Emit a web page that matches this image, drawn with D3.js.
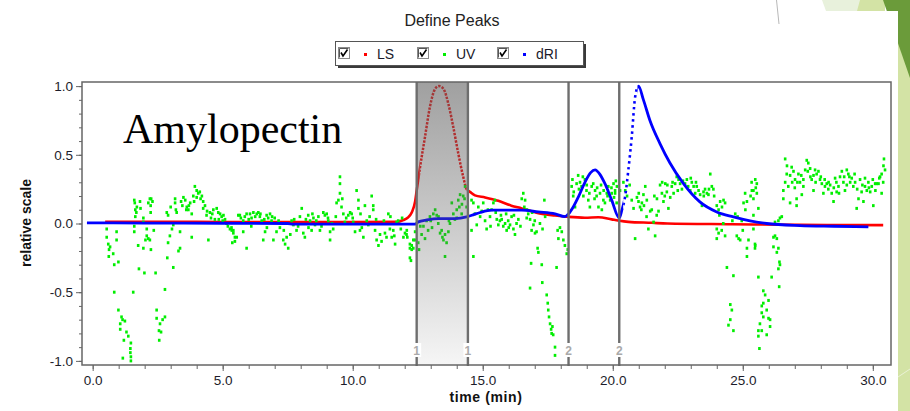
<!DOCTYPE html>
<html>
<head>
<meta charset="utf-8">
<script src="https://cdn.jsdelivr.net/npm/d3@7"></script>
<style>
body { margin: 0; background: #fff; }
svg { display: block; font-family: Arial, "Liberation Sans", sans-serif; }
</style>
</head>
<body>
<script>
// LS (light scattering), [time, relative value]
var lsData = [
  [0.48,0.012],[2,0.012],[4,0.012],[6,0.01],[8,0.01],[10,0.01],[11.7,0.012],[11.95,0.025],[12.1,0.04],
  [12.27,0.08],[12.4,0.16],[12.46,0.24],[12.59,0.41],[12.78,0.63],[12.97,0.85],[13.17,0.98],[13.32,1.0],
  [13.49,0.98],[13.68,0.87],[13.87,0.70],[14.06,0.51],[14.25,0.34],[14.38,0.25],[14.51,0.23],[14.7,0.205],
  [15.09,0.19],[15.6,0.165],[16.1,0.13],[16.5,0.11],[17.14,0.075],[17.78,0.058],[18.3,0.048],[18.93,0.042],
  [19.45,0.046],[19.96,0.03],[20.2,0.022],[20.6,0.012],[21.5,0.005],[22.1,0.0],[24.6,-0.005],[27.2,-0.01],
  [30.4,-0.012]
]

// dRI (differential refractive index)
var driData = [
  [-0.22,0.005],[2,0.003],[5,0.002],[7.5,0.0],[7.7,-0.004],[12.4,-0.004],[12.52,0.012],[12.85,0.026],
  [13.29,0.036],[13.93,0.036],[14.38,0.048],[14.58,0.06],[14.9,0.08],[15.35,0.097],[15.86,0.097],[16.5,0.097],
  [17.14,0.084],[17.78,0.07],[18.16,0.05],[18.3,0.07],[18.48,0.12],[18.67,0.19],[18.93,0.30],[19.15,0.37],
  [19.32,0.39],[19.5,0.36],[19.7,0.29],[19.96,0.17],[20.25,0.04],[20.35,0.097],[20.47,0.19],[20.6,0.39],
  [20.73,0.63],[20.86,0.92],[20.99,1.0],[21.18,0.9],[21.43,0.75],[21.82,0.58],[22.2,0.44],[22.72,0.29],
  [23.35,0.157],[24.0,0.084],[24.64,0.048],[25.28,0.019],[25.92,0.0],[27.2,-0.015],[28.5,-0.02],[29.83,-0.024]
]

// UV detector points
var uvData = [
  [0.54,-0.04],[0.54,-0.10],[0.6,-0.15],[0.63,-0.19],[0.67,-0.17],[0.79,-0.22],[0.62,-0.24],[0.83,-0.30],
  [0.92,-0.06],[0.92,-0.12],[0.99,-0.28],[0.83,-0.50],[0.99,-0.63],[1.11,-0.68],[1.06,-0.73],[1.15,-0.70],
  [1.24,-0.71],[1.06,-0.77],[1.3,-0.79],[1.2,-0.85],[1.37,-0.82],[1.47,-0.87],[1.45,-0.91],[1.45,-0.94],
  [1.47,-0.97],[1.47,-1.0],[1.16,-0.98],[1.56,-0.50],[1.6,0.17],[1.62,0.15],[1.64,0.10],[1.64,0.05],
  [1.6,-0.02],[1.6,-0.06],[1.82,0.16],[1.84,0.11],[1.95,0.04],[1.95,0.01],[2.08,-0.04],[2.08,-0.09],
  [2.03,-0.12],[1.95,-0.18],[1.75,-0.16],[1.78,-0.33],[1.99,-0.36],[2.14,-0.11],[2.2,-0.12],[2.24,-0.19],
  [2.2,0.18],[2.25,0.18],[2.23,0.13],[2.23,0.08],[2.14,0.15],[2.42,-0.36],[2.46,-0.63],[2.46,-0.69],
  [2.59,-0.73],[2.55,-0.78],[2.63,-0.79],[2.69,-0.70],[2.78,-0.68],[2.56,-0.85],[2.78,-0.48],[2.85,0.08],
  [2.9,0.06],[2.9,-0.14],[2.97,-0.09],[2.87,-0.25],[3.1,-0.32],[3.05,-0.04],[3.17,0.18],[3.17,0.15],
  [3.23,0.08],[3.1,-0.01],[3.36,-0.06],[3.36,-0.18],[3.3,-0.20],[3.49,0.19],[3.56,0.17],[3.62,0.12],
  [3.68,0.10],[3.75,0.15],[3.81,0.07],[3.81,-0.10],[3.93,0.27],[4.0,0.24],[4.06,0.22],[4.12,0.23],
  [3.87,0.20],[4.25,0.16],[4.25,0.11],[4.32,0.13],[4.38,0.06],[4.45,-0.12],[4.51,0.08],[4.64,0.10],
  [4.7,0.03],[4.77,0.11],[4.83,0.08],[4.9,0.07],[4.96,0.05],[5.03,0.06],[5.09,0.03],[5.28,-0.04],
  [5.35,-0.05],[5.41,-0.07],[5.47,-0.10],[5.37,-0.14],[5.6,0.06],
  [1.7,0.12],[1.68,0.08],[2.3,0.16],[2.35,-0.05],[3.0,0.12],[3.2,0.1],[3.4,0.16],[3.45,0.13],
  [3.6,0.1],[3.7,0.13],[3.9,0.16],[4.0,0.19],[4.15,0.18],[4.2,0.2],[4.4,0.09],[4.55,0.04],[4.6,0.07],
  [4.85,0.03],[5.0,0.02],[5.15,0.0],[5.2,-0.02],
  [5.34,-0.03],[5.41,-0.05],[5.47,-0.13],[5.54,-0.1],[5.66,0.06],[5.79,0.02],[5.79,-0.06],[5.92,-0.18],
  [5.92,0.07],[6.05,0.07],[6.11,0.04],[6.18,0.08],[6.31,0.07],[6.37,0.08],[6.43,0.05],[6.5,0.02],
  [6.56,-0.12],[6.63,-0.06],[6.69,0.06],[6.75,0.04],[6.82,0.07],[6.88,0.02],[6.95,-0.12],[7.07,-0.06],
  [7.2,-0.03],[7.27,0.0],[7.33,-0.12],[7.4,-0.15],[7.52,-0.18],[7.46,-0.1],[7.65,0.02],[7.72,-0.01],
  [7.84,-0.05],[7.97,0.05],[8.04,0.11],[8.1,-0.07],[8.16,-0.1],[8.29,0.06],[8.36,0.02],[8.42,-0.05],
  [8.49,0.04],[8.55,-0.01],[8.68,0.05],[8.74,-0.05],[8.87,0.08],[8.93,0.06],[9.0,0.07],[9.06,0.02],
  [9.13,-0.06],[9.13,-0.12],[9.25,-0.04],[9.38,0.15],[9.45,0.17],[9.51,0.22],[9.51,0.34],[9.51,0.29],
  [9.57,0.12],[9.64,0.07],[9.7,0.01],[9.83,0.06],[9.9,0.08],[9.96,0.07],[10.02,0.01],[10.09,-0.06],
  [10.15,0.24],[10.22,0.17],[10.22,0.11],[10.28,-0.05],[10.41,-0.1],[10.47,0.13],[10.54,0.02],[10.6,-0.01],
  [10.73,0.2],[10.79,0.13],[10.79,0.1],[10.86,-0.05],[10.92,-0.12],[10.99,-0.16],[11.05,-0.08],[11.11,-0.13],
  [11.24,-0.07],[11.37,0.07],[11.43,-0.04],[11.5,-0.1],[11.56,-0.05],[11.63,-0.15],[11.69,0.01],[11.75,0.02],
  [11.95,-0.1],[12.01,-0.07],[12.07,-0.08],[12.2,-0.15],[12.27,-0.19],[12.33,-0.18],[12.39,-0.12],[12.2,-0.25],
  [5.7,0.04],[5.85,0.05],[6.0,0.03],[6.1,-0.02],[6.25,0.05],[6.45,0.07],[6.6,0.03],[6.7,-0.03],[6.9,0.05],
  [7.0,0.04],[7.15,0.02],[7.35,-0.05],[7.6,-0.08],[7.75,0.03],[7.9,-0.02],[8.2,0.03],[8.3,-0.03],[8.45,0.07],
  [8.6,0.02],[8.8,-0.02],[9.05,0.04],[9.2,0.0],[9.35,0.05],[9.6,0.18],[9.75,0.04],[10.0,0.04],[10.3,0.07],
  [10.35,-0.03],[10.65,0.05],[10.9,0.03],[11.2,0.02],[11.3,-0.1],[11.45,0.05],[11.6,-0.09],[11.85,-0.04],
  [11.9,0.04],
  [12.08,-0.05],[12.1,-0.1],[12.2,-0.18],[12.27,-0.16],[12.33,-0.12],[12.24,-0.27],[12.4,-0.06],[12.52,-0.14],
  [12.55,-0.19],[12.72,-0.02],[12.78,-0.11],[12.84,0.02],[12.9,-0.05],[12.97,0.05],[13.1,0.07],[13.17,0.1],
  [13.23,0.06],[13.29,0.0],[13.36,-0.07],[13.42,-0.05],[13.49,-0.12],[13.55,-0.08],[13.61,-0.14],[13.55,-0.24],
  [13.68,-0.06],[13.74,0.0],[13.81,0.15],[13.87,0.07],[13.93,0.03],[14.0,0.1],[14.06,0.17],[14.13,0.21],
  [14.19,0.07],[14.25,0.2],[14.32,0.27],[14.38,0.12],
  [12.6,-0.02],[12.65,-0.08],[13.0,0.02],[13.05,-0.03],[13.3,0.05],[13.45,-0.1],[13.7,0.02],[14.0,0.04],
  [14.1,0.12],[14.2,0.14],[14.3,0.18],
  [14.57,0.17],[14.64,0.15],[14.7,0.07],[14.64,-0.24],
  [14.57,-0.05],[14.77,-0.01],[14.83,0.12],[14.96,0.09],[15.02,0.15],[15.09,0.02],[15.15,-0.04],[15.28,0.05],
  [15.34,0.1],[15.41,0.15],[15.47,0.17],[15.54,0.03],[15.6,-0.01],[15.66,0.02],[15.73,0.03],[15.79,-0.02],
  [15.86,0.0],[15.92,-0.05],[15.98,0.02],[16.05,-0.01],[16.11,0.05],[16.18,-0.04],[16.24,-0.08],[16.37,0.03],
  [16.5,0.18],[16.56,0.22],[16.63,0.17],[16.69,0.04],[16.75,0.07],[16.82,0.03],[16.88,-0.05],[16.95,-0.01],
  [17.01,-0.07],[17.07,-0.06],[16.86,-0.29],[17.11,-0.18],[17.14,-0.21],[17.27,-0.3],[16.82,-0.47],[17.29,-0.43],
  [14.9,0.05],[15.2,0.1],[15.3,-0.02],[15.5,0.08],[15.7,0.06],[15.9,0.07],[16.0,-0.03],[16.2,0.06],[16.3,0.0],
  [16.45,-0.02],[16.6,0.12],[16.7,0.1],[16.9,0.08],[17.0,0.02],[17.2,0.0],[17.3,-0.04],
  [17.37,0.17],[17.4,0.05],[17.46,-0.52],[17.5,-0.58],[17.52,-0.63],[17.55,-0.68],[17.59,-0.73],[17.63,-0.77],
  [17.65,-0.8],[17.68,-0.75],[17.71,-0.81],[17.78,-0.9],[17.78,-0.96],[17.84,-0.32],[17.88,-0.05],[17.91,-0.11],
  [17.97,-0.03],[18.04,-0.06],[18.1,-0.12],[18.16,-0.16],[18.23,-0.22],[18.27,-0.19],[18.42,0.27],[18.48,0.2],
  [18.55,0.12],[18.61,0.29],[18.67,0.35],[18.74,0.3],[18.8,0.27],[18.87,0.2],[18.93,0.32],[18.99,0.24],
  [19.06,0.17],[19.12,0.12],[19.19,0.27],[19.25,0.29],[19.32,0.24],[19.38,0.2],[19.45,0.12],[19.51,0.22],
  [19.58,0.1],[19.64,0.17],[19.7,0.15],[19.77,0.22],[19.83,0.27],[19.9,0.17],[19.96,0.22],[20.03,0.29],
  [20.09,0.24],[20.15,0.15],
  [18.45,0.32],[18.5,0.23],[18.7,0.25],[18.85,0.34],[19.0,0.28],[19.1,0.22],[19.3,0.18],[19.4,0.26],
  [19.55,0.28],[19.65,0.24],[19.8,0.2],[19.95,0.26],[20.05,0.19],[20.12,0.31],
  [20.09,0.22],[20.16,0.27],[20.28,0.24],[20.41,0.3],[20.48,0.24],[20.73,0.17],[20.8,0.11],[20.86,-0.11],
  [20.93,0.19],[20.99,0.16],[21.05,0.12],[21.12,0.15],[21.18,0.21],[21.25,0.27],[21.31,0.17],[21.37,-0.04],
  [21.44,0.09],[21.5,0.1],[21.57,0.01],[21.63,-0.09],[21.69,0.06],[21.76,0.09],[21.82,0.28],[21.89,0.22],
  [21.95,0.16],[22.02,0.29],[22.08,0.23],[22.14,0.11],[22.21,0.19],[22.27,0.27],[22.34,0.22],[22.4,0.29],
  [22.46,0.34],[22.53,0.32],[22.59,0.29],[22.66,0.25],[22.78,0.29],[22.85,0.32],[22.98,0.24],[23.04,0.3],
  [23.11,0.27],[23.17,0.22],[23.23,0.27],[23.36,0.21],[23.43,0.13],[23.49,0.23],[23.55,0.25],[23.62,0.22],
  [23.68,0.21],[23.75,0.36],[23.81,0.27],[23.87,0.25],[24.0,0.13],[24.07,0.1],[24.13,0.16],[24.26,0.17],
  [20.55,0.2],[20.65,0.28],[21.0,0.22],[21.1,0.1],[21.2,0.13],[21.3,0.05],[21.6,0.2],[21.7,0.18],[21.9,0.3],
  [22.0,0.2],[22.1,0.28],[22.3,0.3],[22.5,0.24],[22.7,0.31],[22.9,0.27],[23.0,0.33],[23.2,0.3],[23.3,0.24],
  [23.5,0.2],[23.7,0.25],[23.9,0.2],[24.1,0.06],[24.2,0.12],[24.25,0.0],
  [24.32,0.15],[24.0,-0.04],[24.07,-0.07],[24.0,-0.11],[24.19,-0.05],[24.32,-0.09],[24.71,0.07],[24.77,-0.09],
  [24.84,-0.11],[24.9,-0.12],[24.96,0.02],[25.03,0.15],[25.09,0.22],[25.16,0.16],[25.16,-0.18],[25.16,-0.24],
  [25.22,-0.12],[25.35,0.24],[25.41,0.18],[25.48,0.32],[25.54,0.29],[25.48,-0.16],[24.39,-0.32],[24.64,-0.38],
  [24.52,-0.59],[24.58,-0.63],[24.52,-0.7],[24.45,-0.74],[24.64,-0.78],
  [24.6,0.02],[24.8,0.05],[25.0,-0.05],[25.1,0.1],[25.3,0.2],[25.5,0.26],
  [25.34,0.3],[25.41,0.24],[25.54,0.22],[25.6,0.11],[25.41,0.06],[25.41,-0.04],[25.47,-0.15],[25.47,-0.18],
  [25.6,-0.39],[25.79,-0.49],[25.86,-0.52],[25.79,-0.58],[25.99,-0.56],[25.73,-0.6],[25.73,-0.65],[25.92,-0.63],
  [25.79,-0.68],[25.99,-0.69],[26.05,-0.7],[25.66,-0.73],[26.05,-0.75],[25.6,-0.78],[25.73,-0.78],[25.92,-0.81],
  [25.6,-0.82],[25.64,-0.91],[26.11,-0.39],[26.18,-0.1],[26.18,-0.17],[26.24,-0.09],[26.31,-0.11],[26.37,-0.18],
  [26.31,-0.21],[26.41,-0.28],[26.43,-0.3],[26.37,-0.33],[26.4,-0.46],[26.24,0.01],[26.37,0.02],[26.43,0.04],
  [26.5,0.05],[26.56,0.18],[26.56,0.24],[26.63,0.3],[26.63,0.47],[26.69,0.36],[26.75,0.27],[26.82,0.35],
  [26.82,0.15],[26.88,0.41],[26.95,0.38],[27.01,0.32],[27.07,0.18],[27.07,0.13],[27.14,0.36],[27.2,0.3],
  [27.27,0.21],[27.33,0.32],[27.33,0.27],[27.4,0.39],[27.46,0.46],[27.52,0.44],[27.59,0.4],[27.65,0.32],
  [27.72,0.35],[27.72,0.24],[27.78,0.39],[27.84,0.36],[27.91,0.38],[27.97,0.32],[28.04,0.29],[28.1,0.22],
  [28.16,0.27],[28.23,0.29],[28.29,0.25],[28.36,0.28],[28.42,0.22],[28.49,0.16],[28.55,0.33],[28.61,0.23],
  [28.68,0.27],[28.74,0.34],[28.81,0.38],[28.87,0.3],[28.93,0.24],[29.0,0.39],[29.06,0.36],[29.13,0.3],
  [29.19,0.33],[29.25,0.27],[29.32,0.3],[29.38,0.11],[29.45,0.18],[29.51,0.32],[29.57,0.23],[29.64,0.16],
  [29.7,0.27],[29.77,0.24],[29.83,0.3],[29.9,0.23],[29.96,0.27],[30.02,0.13],[30.09,0.29],[30.15,0.29],
  [30.22,0.29],[30.28,0.34],[30.34,0.36],[30.41,0.42],[30.43,0.47],[30.47,0.39],[30.34,0.22],
  [26.7,0.42],[26.9,0.3],[27.0,0.26],[27.1,0.3],[27.25,0.35],[27.5,0.38],[27.6,0.34],[27.8,0.3],[28.0,0.34],
  [28.15,0.32],[28.3,0.3],[28.5,0.26],[28.6,0.3],[28.7,0.22],[28.9,0.34],[29.0,0.28],[29.1,0.34],[29.3,0.36],
  [29.4,0.25],[29.6,0.28],[29.7,0.33],[29.85,0.26],[30.0,0.32],[30.1,0.24],[30.25,0.33],[30.4,0.3]
]

var peakTimes = [12.46, 14.43, 18.3, 20.25]
var peakLabels = ['1', '1', '2', '2']
var shadedPeak = [12.46, 14.43]
var driSteep = [20.4, 20.95]
var yMajorTicks = [-1, -0.5, 0, 0.5, 1]
var yMinorTicks = d3.range(-10, 11).map(function(d){ return d / 10 })
var xMajorTicks = [0, 5, 10, 15, 20, 25, 30]
var xMinorTicks = d3.range(0, 31)
var legendNames = ['LS', 'UV', 'dRI']
var legendColors = ['#ff0000', '#00ee00', '#0000ff']

var W = 910, H = 411
var plot = {left: 82, right: 891, top: 82, bottom: 365}

var svg = d3.select('body').append('svg').attr('width', W).attr('height', H)
var defs = svg.append('defs')

// slide background decoration (top right corner)
svg.append('rect').attr('x', 898).attr('y', 0).attr('width', 12).attr('height', H).attr('fill', '#d3e3a5')
svg.append('polygon').attr('points', '822,0 862,0 858,11 826,11').attr('fill', '#e8f1dc')
svg.append('polygon').attr('points', '860,0 885,0 885,11 857,11').attr('fill', '#d3e3a5')
svg.append('polygon').attr('points', '883,0 910,0 910,78').attr('fill', '#6b9b3a')
svg.append('line').attr('x1', 898).attr('y1', 377).attr('x2', 910).attr('y2', 369)
  .attr('stroke', '#e9f1d6').attr('stroke-width', 1)
// pasted chart image area
svg.append('rect').attr('x', 0).attr('y', 11).attr('width', 898).attr('height', H - 11).attr('fill', '#fff')
svg.append('line').attr('x1', 776.5).attr('y1', 0).attr('x2', 779).attr('y2', 24)
  .attr('stroke', '#b8b8b8').attr('stroke-width', 1)

var x = d3.scaleLinear().domain([-0.41, 30.7]).range([plot.left, plot.right])
var y = d3.scaleLinear().domain([-1.03, 1.03]).range([plot.bottom, plot.top])

// title
svg.append('text').attr('x', 452).attr('y', 26).attr('text-anchor', 'middle')
  .attr('font-size', 16).attr('fill', '#222').text('Define Peaks')

// legend
var lg = svg.append('g')
lg.append('rect').attr('x', 338).attr('y', 44).attr('width', 248).attr('height', 24).attr('fill', '#3a3a3a')
lg.append('rect').attr('x', 335.5).attr('y', 41.5).attr('width', 248).attr('height', 24)
  .attr('fill', '#fff').attr('stroke', '#555').attr('stroke-width', 1)
var cbX = [338, 417, 497]
legendNames.forEach(function(name, i){
  var g = lg.append('g').attr('transform', 'translate(' + cbX[i] + ',47)')
  g.append('rect').attr('x', 0.5).attr('y', 0.5).attr('width', 11).attr('height', 11)
    .attr('fill', '#fff').attr('stroke', '#8a8a8a')
  g.append('path').attr('d', 'M1.5,1.5 H10.5 M1.5,1.5 V10.5').attr('stroke', '#555').attr('fill', 'none')
  g.append('path').attr('d', 'M3,5.5 L5,9 L9.5,2.5').attr('stroke', '#000').attr('stroke-width', 1.6).attr('fill', 'none')
  g.append('rect').attr('x', 26).attr('y', 6).attr('width', 3).attr('height', 3).attr('fill', legendColors[i])
  g.append('text').attr('x', 39).attr('y', 12).attr('font-size', 14).attr('fill', '#1a1a2a').text(name)
})

// clip paths: whole plot, and plot split around a time range
function addClip(id, ranges){
  var cp = defs.append('clipPath').attr('id', id)
  ranges.forEach(function(r){
    cp.append('rect').attr('x', x(r[0])).attr('y', plot.top)
      .attr('width', x(r[1]) - x(r[0])).attr('height', plot.bottom - plot.top)
  })
}
var t0 = x.domain()[0], t1 = x.domain()[1]
addClip('clip', [[t0, t1]])
addClip('lsMain', [[t0, shadedPeak[0] + 0.12], [shadedPeak[1] - 0.05, t1]])
addClip('lsPeak', [[shadedPeak[0] + 0.12, shadedPeak[1] - 0.05]])
addClip('driMain', [[t0, driSteep[0]], [driSteep[1], t1]])
addClip('driSteep', [driSteep])

var line = d3.line().x(function(d){ return x(d[0]) }).y(function(d){ return y(d[1]) }).curve(d3.curveMonotoneX)

svg.append('path').datum(lsData).attr('d', line).attr('clip-path', 'url(#lsMain)')
  .attr('fill', 'none').attr('stroke', '#ff0000').attr('stroke-width', 2.6)
svg.append('path').datum(lsData).attr('d', line).attr('clip-path', 'url(#lsPeak)')
  .attr('fill', 'none').attr('stroke', '#ff0000').attr('stroke-width', 2.5).attr('stroke-dasharray', '2.4 1.3')

svg.append('g').attr('clip-path', 'url(#clip)')
  .selectAll('rect').data(uvData).join('rect')
  .attr('x', function(d){ return x(d[0]) - 1.3 })
  .attr('y', function(d){ return y(d[1]) - 1.5 })
  .attr('width', 2.6).attr('height', 3)
  .attr('fill', '#00ee00')

svg.append('path').datum(driData).attr('d', line).attr('clip-path', 'url(#driMain)')
  .attr('fill', 'none').attr('stroke', '#0000ff').attr('stroke-width', 2.8)
svg.append('path').datum(driData).attr('d', line).attr('clip-path', 'url(#driSteep)')
  .attr('fill', 'none').attr('stroke', '#0000ff').attr('stroke-width', 2.6).attr('stroke-dasharray', '2.5 3.5')

// shaded peak region (overlay)
var grad = defs.append('linearGradient').attr('id', 'shade')
  .attr('x1', 0).attr('y1', 0).attr('x2', 0).attr('y2', 1)
grad.append('stop').attr('offset', '0%').attr('stop-color', '#606060').attr('stop-opacity', 0.6)
grad.append('stop').attr('offset', '100%').attr('stop-color', '#606060').attr('stop-opacity', 0.06)
svg.append('rect')
  .attr('x', x(shadedPeak[0])).attr('y', plot.top)
  .attr('width', x(shadedPeak[1]) - x(shadedPeak[0])).attr('height', plot.bottom - plot.top)
  .attr('fill', 'url(#shade)')

// peak boundaries
var pk = svg.selectAll('g.peak').data(peakTimes).join('g').attr('class', 'peak')
pk.append('line')
  .attr('x1', function(d){ return x(d) }).attr('x2', function(d){ return x(d) })
  .attr('y1', plot.top).attr('y2', plot.bottom + 1)
  .attr('stroke', '#6e6e6e').attr('stroke-width', 2.4)
pk.append('rect')
  .attr('x', function(d){ return x(d) - 4.5 }).attr('y', 343)
  .attr('width', 9).attr('height', 14).attr('fill', '#fff')
pk.append('text')
  .attr('x', function(d){ return x(d) }).attr('y', 354.5)
  .attr('text-anchor', 'middle').attr('font-size', 12).attr('font-weight', 'bold').attr('fill', '#aaa')
  .text(function(d, i){ return peakLabels[i] })

// axes
var fmt = function(d){ return d.toFixed(1) }
var yMinor = svg.append('g').attr('transform', 'translate(' + plot.left + ',0)')
  .call(d3.axisLeft(y).tickValues(yMinorTicks).tickSize(3).tickFormat(''))
var yMajor = svg.append('g').attr('transform', 'translate(' + plot.left + ',0)')
  .call(d3.axisLeft(y).tickValues(yMajorTicks).tickSize(6).tickPadding(3).tickFormat(fmt))
var xMinor = svg.append('g').attr('transform', 'translate(0,' + plot.bottom + ')')
  .call(d3.axisBottom(x).tickValues(xMinorTicks).tickSize(4).tickFormat(''))
var xMajor = svg.append('g').attr('transform', 'translate(0,' + plot.bottom + ')')
  .call(d3.axisBottom(x).tickValues(xMajorTicks).tickSize(6).tickPadding(4).tickFormat(fmt))

;[yMinor, yMajor, xMinor, xMajor].forEach(function(g){
  g.select('.domain').remove()
  g.selectAll('.tick line').attr('stroke', '#666')
  g.selectAll('.tick text').attr('font-size', 13.5).attr('fill', '#1c1c2a')
    .attr('font-family', 'Arial, "Liberation Sans", sans-serif')
})

// frame
svg.append('rect').attr('x', plot.left).attr('y', plot.top)
  .attr('width', plot.right - plot.left).attr('height', plot.bottom - plot.top)
  .attr('fill', 'none').attr('stroke', '#666').attr('stroke-width', 1.5)

// axis titles
svg.append('text').attr('transform', 'translate(30.5,223) rotate(-90)')
  .attr('text-anchor', 'middle').attr('font-size', 14).attr('font-weight', 'bold').attr('fill', '#111')
  .text('relative scale')
svg.append('text').attr('x', 486).attr('y', 402).attr('text-anchor', 'middle')
  .attr('font-size', 14).attr('font-weight', 'bold').attr('fill', '#111').attr('letter-spacing', 0.6)
  .text('time (min)')

// sample label
svg.append('text').attr('x', 123).attr('y', 143)
  .attr('font-family', '"Liberation Serif", "Times New Roman", serif')
  .attr('font-size', 42).attr('fill', '#000').text('Amylopectin')
</script>
</body>
</html>
